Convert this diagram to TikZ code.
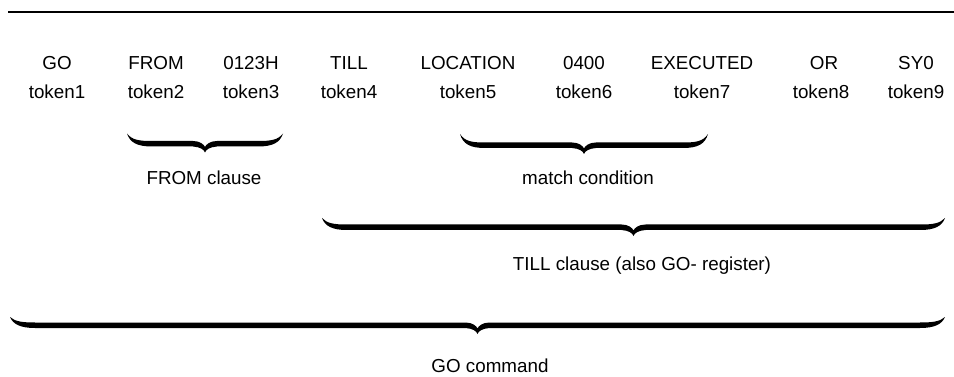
\documentclass[tikz,border=0pt]{standalone}
\usepackage{fontspec}
\setmainfont{Liberation Sans}
\newcommand{\tbrace}[4]{%
\pgfmathsetmacro\xm{(#1+#2)/2}%
\fill[black] (#1,#3-#4) .. controls (#1+3,#3-1) and (#1+10,#3+3) .. (#1+25,#3+3)
 -- (\xm-12,#3+3) .. controls (\xm-5,#3+3.5) and (\xm-1,#3+6) .. (\xm,#3+9)
 .. controls (\xm+1,#3+6) and (\xm+5,#3+3.5) .. (\xm+12,#3+3)
 -- (#2-25,#3+3) .. controls (#2-10,#3+3) and (#2-3,#3-1) .. (#2,#3-#4)
 .. controls (#2-5,#3-3.5) and (#2-12,#3-2.5) .. (#2-25,#3-2.5)
 -- (\xm+12,#3-2.5) .. controls (\xm+5,#3-2.5) and (\xm+1,#3+1) .. (\xm,#3+3.5)
 .. controls (\xm-1,#3+1) and (\xm-5,#3-2.5) .. (\xm-12,#3-2.5)
 -- (#1+25,#3-2.5) .. controls (#1+12,#3-2.5) and (#1+5,#3-3.5) .. (#1,#3-#4) -- cycle;}
\begin{document}
\begin{tikzpicture}[x=1pt,y=-1pt,
  lbl/.style={anchor=base,inner sep=0pt,font=\fontsize{18.8}{21}\selectfont}]
\useasboundingbox (0,0) rectangle (954,377);
\fill[white] (0,0) rectangle (954,377);
\draw[line width=2.4pt] (8,12) -- (954,12);
% keywords
\node[lbl] (k1) at (57,70) {GO};
\node[lbl] (k2) at (156,70) {FROM};
\node[lbl] (k3) at (251,70) {0123H};
\node[lbl] (k4) at (349,70) {TILL};
\node[lbl] (k5) at (468,70) {LOCATION};
\node[lbl] (k6) at (584,70) {0400};
\node[lbl] (k7) at (702,70) {EXECUTED};
\node[lbl] (k8) at (824,70) {OR};
\node[lbl] (k9) at (916,70) {SY0};
% tokens
\node[lbl] (t1) at (57,99) {token1};
\node[lbl] (t2) at (156,99) {token2};
\node[lbl] (t3) at (251,99) {token3};
\node[lbl] (t4) at (349,99) {token4};
\node[lbl] (t5) at (468,99) {token5};
\node[lbl] (t6) at (584,99) {token6};
\node[lbl] (t7) at (702,99) {token7};
\node[lbl] (t8) at (821,99) {token8};
\node[lbl] (t9) at (916,99) {token9};
% braces
\tbrace{127}{283}{143.5}{10}
\tbrace{460}{708}{145}{11}
\tbrace{322}{945}{227}{9}
\tbrace{10}{945}{325}{8}
% labels
\node[lbl] (fc) at (204,185) {FROM clause};
\node[lbl] (mc) at (588,185) {match condition};
\node[lbl] (tc) at (642,270) {TILL clause (also GO- register)};
\node[lbl] (gc) at (490,372) {GO command};
\end{tikzpicture}
\end{document}
